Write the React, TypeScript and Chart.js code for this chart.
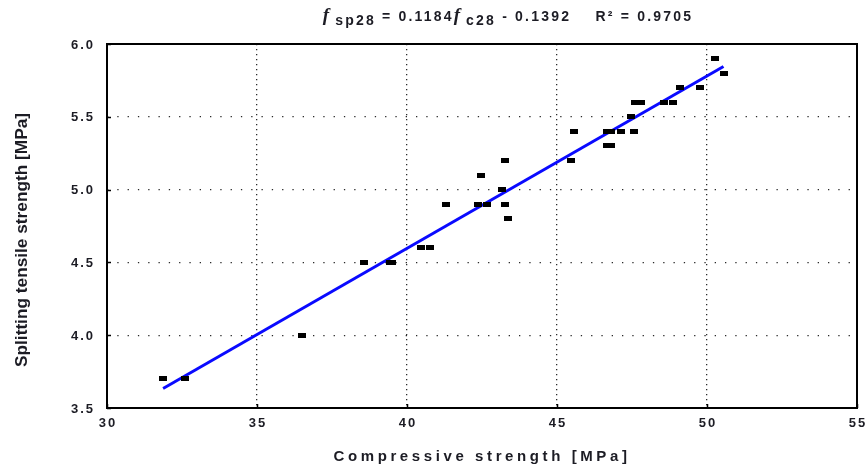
import React, { useEffect, useRef } from "react";
import { Chart, registerables } from "chart.js";

Chart.register(...registerables);

// Measured 28-day strengths (MPa)
const compressive = [
  31.87, 32.59, 36.49, 38.58, 39.43, 39.51, 40.47, 40.75, 41.3, 42.35, 42.67,
  42.47, 43.15, 43.27, 43.27, 43.38, 45.47, 45.55, 46.65, 46.8, 46.65, 46.8,
  47.14, 47.58, 47.47, 47.59, 47.79, 48.55, 48.87, 49.09, 49.78, 50.25, 50.55,
];
const splitting = [
  3.7, 3.7, 4.0, 4.5, 4.5, 4.5, 4.6, 4.6, 4.9, 4.9, 4.9, 5.1, 5.0, 5.2, 4.9, 4.8,
  5.2, 5.4, 5.3, 5.3, 5.4, 5.4, 5.4, 5.4, 5.5, 5.6, 5.6, 5.6, 5.6, 5.7, 5.7, 5.9,
  5.8,
];

// Linear regression fit
const slope = 0.1184;
const intercept = -0.1392;
const rSquared = "0.9705";

const xTicks = [30, 35, 40, 45, 50, 55];
const yTicks = [3.5, 4.0, 4.5, 5.0, 5.5, 6.0];
const xTickLabels = ["30", "35", "40", "45", "50", "55"];
const yTickLabels = ["3.5", "4.0", "4.5", "5.0", "5.5", "6.0"];

const xTitle = "Compressive strength [MPa]";
const yTitle = "Splitting tensile strength [MPa]";

const TEXT = "#1c1c24";
const SANS = '"Liberation Sans", Arial, sans-serif';

type Run = { text: string; font: string; dy: number; spacing: number };

const titleRuns: Run[] = [
  { text: "f", font: `italic bold 19px "Liberation Serif", serif`, dy: 0, spacing: 0 },
  { text: " sp28", font: `bold 14px ${SANS}`, dy: 4, spacing: 2.2 },
  { text: " = " + slope.toFixed(4), font: `bold 14px ${SANS}`, dy: 0, spacing: 2.2 },
  { text: "f", font: `italic bold 19px "Liberation Serif", serif`, dy: 0, spacing: 0 },
  { text: " c28", font: `bold 14px ${SANS}`, dy: 4, spacing: 2.2 },
  { text: " - " + Math.abs(intercept).toFixed(4), font: `bold 14px ${SANS}`, dy: 0, spacing: 2.2 },
  { text: "    R\u00B2 = " + rSquared, font: `bold 14px ${SANS}`, dy: 0, spacing: 2.2 },
];

const decorations = {
  id: "decorations",
  afterDraw(chart: any) {
    const { ctx, chartArea: a, scales } = chart;
    const xs = scales.x;
    const ys = scales.y;
    ctx.save();

    // Plot frame
    ctx.strokeStyle = "#000";
    ctx.lineWidth = 2;
    ctx.strokeRect(a.left, a.top, a.right - a.left, a.bottom - a.top);

    // Inner tick marks
    ctx.lineWidth = 1.5;
    ctx.beginPath();
    xTicks.forEach((v) => {
      const px = Math.round(xs.getPixelForValue(v)) + 0.5;
      ctx.moveTo(px, a.bottom);
      ctx.lineTo(px, a.bottom - 4);
    });
    yTicks.forEach((v) => {
      const py = Math.round(ys.getPixelForValue(v)) + 0.5;
      ctx.moveTo(a.left, py);
      ctx.lineTo(a.left + 4, py);
    });
    ctx.stroke();

    // Tick labels
    ctx.fillStyle = TEXT;
    ctx.font = `bold 13px ${SANS}`;
    ctx.textBaseline = "middle";
    (ctx as any).letterSpacing = "2px";
    ctx.textAlign = "right";
    yTicks.forEach((v, i) => {
      ctx.fillText(yTickLabels[i], a.left - 12, ys.getPixelForValue(v) + 1);
    });
    ctx.textAlign = "center";
    xTicks.forEach((v, i) => {
      ctx.fillText(xTickLabels[i], xs.getPixelForValue(v) + 1, a.bottom + 15);
    });

    // X axis title
    ctx.font = `bold 15px ${SANS}`;
    (ctx as any).letterSpacing = "3.6px";
    ctx.fillText(xTitle, (a.left + a.right) / 2, a.bottom + 49);

    // Y axis title (rotated, condensed)
    (ctx as any).letterSpacing = "0px";
    ctx.font = `bold 17px ${SANS}`;
    const w = ctx.measureText(yTitle).width;
    ctx.save();
    ctx.translate(22, (a.top + a.bottom) / 2 + 14);
    ctx.rotate(-Math.PI / 2);
    ctx.scale(254 / w, 1);
    ctx.textAlign = "center";
    ctx.fillText(yTitle, 0, 0);
    ctx.restore();

    // Regression equation above the plot
    ctx.textAlign = "left";
    ctx.textBaseline = "alphabetic";
    let total = 0;
    const widths = titleRuns.map((r) => {
      ctx.font = r.font;
      (ctx as any).letterSpacing = `${r.spacing}px`;
      const m = ctx.measureText(r.text).width;
      total += m;
      return m;
    });
    let x = (a.left + a.right) / 2 + 26 - total / 2;
    const base = 21;
    titleRuns.forEach((r, i) => {
      ctx.font = r.font;
      (ctx as any).letterSpacing = `${r.spacing}px`;
      ctx.fillText(r.text, x, base + r.dy);
      x += widths[i];
    });

    ctx.restore();
  },
};

export default function App() {
  const canvasRef = useRef<HTMLCanvasElement | null>(null);

  useEffect(() => {
    const canvas = canvasRef.current;
    if (!canvas) return;

    const marker = document.createElement("canvas");
    marker.width = 8;
    marker.height = 5;
    const mctx = marker.getContext("2d")!;
    mctx.fillStyle = "#000";
    mctx.fillRect(0, 0, 8, 5);

    const points = compressive.map((c, i) => ({ x: c, y: splitting[i] }));
    const xMin = Math.min(...compressive);
    const xMax = Math.max(...compressive);
    const fit = [
      { x: xMin, y: slope * xMin + intercept },
      { x: xMax, y: slope * xMax + intercept },
    ];

    const chart = new Chart(canvas, {
      type: "scatter",
      data: {
        datasets: [
          {
            type: "line",
            data: fit,
            borderColor: "#0a0aff",
            borderWidth: 3,
            pointRadius: 0,
            fill: false,
            order: 2,
          } as any,
          {
            data: points,
            pointStyle: marker as any,
            pointRadius: 4,
            backgroundColor: "#000",
            borderColor: "#000",
            order: 1,
          },
        ],
      },
      options: {
        responsive: false,
        animation: false,
        devicePixelRatio: 1,
        layout: { padding: { top: 44, right: 8, left: 0, bottom: 0 } },
        plugins: {
          legend: { display: false },
          tooltip: { enabled: false },
          title: { display: false },
        },
        scales: {
          x: {
            type: "linear",
            min: 30,
            max: 55,
            afterBuildTicks: (s: any) => {
              s.ticks = xTicks.map((v) => ({ value: v }));
            },
            afterFit: (s: any) => {
              s.height = 58;
            },
            ticks: { display: false },
            grid: { drawTicks: false, color: "#2a2a2a", lineWidth: 1.3 },
            border: { display: false, dash: [1.3, 3.7] },
          },
          y: {
            type: "linear",
            min: 3.5,
            max: 6.0,
            afterBuildTicks: (s: any) => {
              s.ticks = yTicks.map((v) => ({ value: v }));
            },
            afterFit: (s: any) => {
              s.width = 107;
            },
            ticks: { display: false },
            grid: { drawTicks: false, color: "#2a2a2a", lineWidth: 1.3 },
            border: { display: false, dash: [1.3, 9] },
          },
        },
      },
      plugins: [decorations],
    });

    return () => chart.destroy();
  }, []);

  return (
    <div style={{ position: "absolute", left: 0, top: 0, width: 865, height: 466, background: "#fff" }}>
      <canvas ref={canvasRef} width={865} height={466} style={{ display: "block" }} />
    </div>
  );
}
